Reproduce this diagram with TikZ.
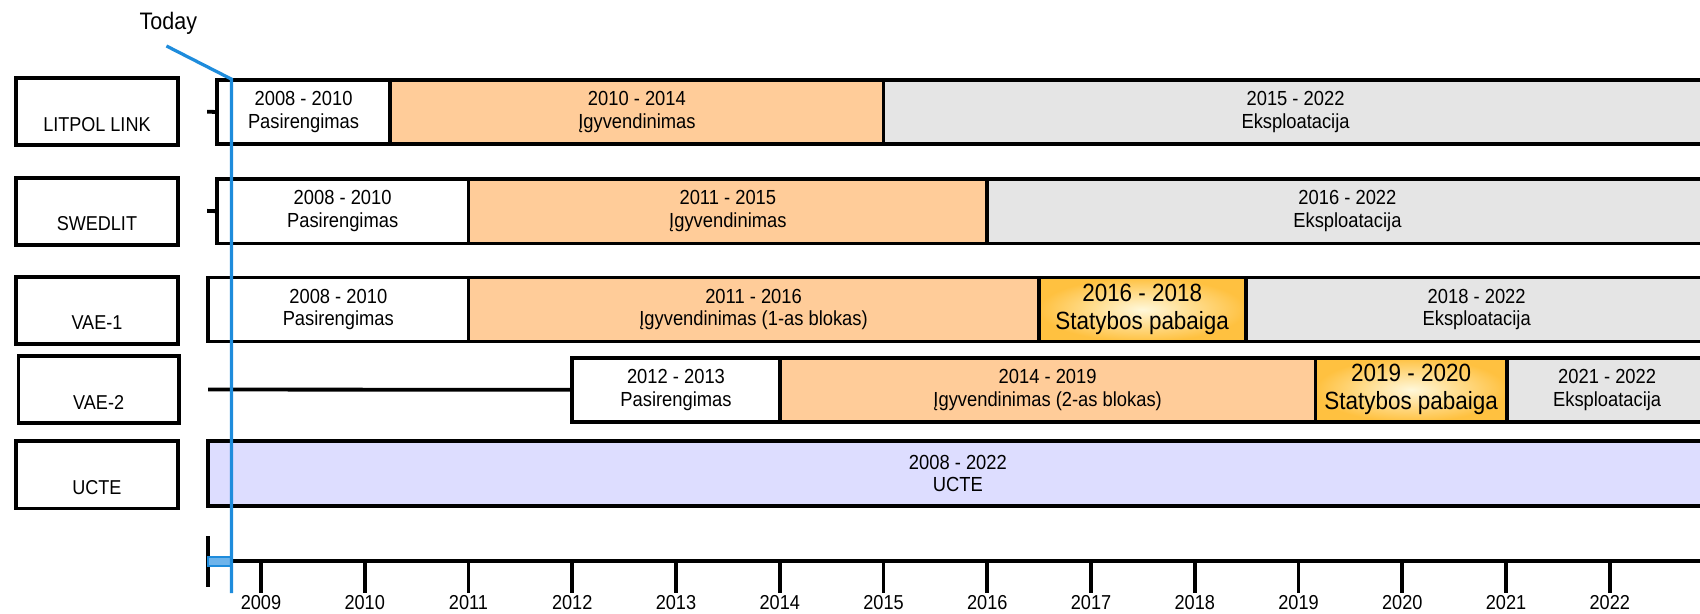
\documentclass[tikz,border=0pt]{standalone}
\usepackage{fontspec}
\setmainfont{Liberation Sans}[FakeStretch=0.9]
\definecolor{peach}{RGB}{255,204,153}
\definecolor{lgray}{RGB}{229,229,229}
\definecolor{lav}{RGB}{221,221,255}
\definecolor{goldout}{RGB}{255,193,64}
\definecolor{goldin}{RGB}{255,248,218}
\definecolor{todayblue}{RGB}{30,140,220}
\definecolor{todaylight}{RGB}{110,180,235}
\newcommand\boxfont{\fontsize{18.8}{20.8}\selectfont}
\newcommand\bigfont{\fontsize{23}{26}\selectfont}
\newcommand\lblfont{\fontsize{18.5}{20}\selectfont}
\newcommand\axfont{\fontsize{18.6}{20}\selectfont}
% segment: name, x1, x2, ytop, ybot, style, text
\newcommand\segm[7]{%
  \node[segbox,#6,minimum width={(#3-#2)*1pt},minimum height={(#5-#4)*1pt}]
    (#1) at ({(#2+#3)/2},{(#4+#5)/2}) {#7};}
% label box: name, x1, x2, ytop, ybot, text
\newcommand\lblbox[6]{%
  \node[lblstyle,minimum width={(#3-#2)*1pt},minimum height={(#5-#4)*1pt}]
    (#1) at ({(#2+#3)/2},{(#4+#5)/2}) {#6};}
\begin{document}
\begin{tikzpicture}[x=1pt,y=-1pt,
  segbox/.style={draw=black,line width=3.5pt,inner sep=0pt,align=center,font=\boxfont},
  white/.style={fill=white},
  orng/.style={fill=peach},
  gry/.style={fill=lgray},
  lavbox/.style={fill=lav},
  gold/.style={shade,inner color=goldin,outer color=goldout,font=\bigfont},
  lblstyle/.style={draw=black,line width=3.5pt,inner sep=0pt,font=\lblfont,
    text height=40pt,text depth=4pt},
  stub/.style={line width=3.5pt,black},
  axisline/.style={line width=3.5pt,black},
  todayline/.style={line width=3pt,todayblue}]
\useasboundingbox (0,0) rectangle (1568,565.4);
\clip (0,0) rectangle (1568,565.4);

% row labels
\lblbox{lLit}{14.8}{164}{72.3}{133.5}{LITPOL LINK}
\lblbox{lSwe}{14.8}{164}{164}{226}{SWEDLIT}
\lblbox{lVa}{14.8}{164}{255.2}{317.3}{VAE-1}
\lblbox{lVb}{17}{165}{328.4}{390.2}{VAE-2}
\lblbox{lUc}{14.8}{164}{407}{469}{UCTE}

% LITPOL LINK
\coordinate (litS) at (191,103);
\segm{lit1}{200}{360}{74}{132.5}{white}{2008 - 2010\\Pasirengimas}
\segm{lit2}{360}{814.9}{74}{132.5}{orng}{2010 - 2014\\Įgyvendinimas}
\segm{lit3}{814.9}{1575}{74}{132.5}{gry}{2015 - 2022\\Eksploatacija}
\draw[stub] (litS) -- (lit1.west);

% SWEDLIT
\coordinate (sweS) at (191,194.5);
\segm{sw1}{200}{432.1}{165}{224.5}{white}{2008 - 2010\\Pasirengimas}
\segm{sw2}{432.1}{910.6}{165}{224.5}{orng}{2011 - 2015\\Įgyvendinimas}
\segm{sw3}{910.6}{1575}{165}{224.5}{gry}{2016 - 2022\\Eksploatacija}
\draw[stub] (sweS) -- (sw1.west);

% VAE-1
\segm{va1}{192}{432.1}{256}{315}{white}{2008 - 2010\\Pasirengimas}
\segm{va2}{432.1}{958}{256}{315}{orng}{2011 - 2016\\Įgyvendinimas (1-as blokas)}
\segm{va3}{958}{1149}{256}{315}{gold}{2016 - 2018\\Statybos pabaiga}
\segm{va4}{1149}{1575}{256}{315}{gry}{2018 - 2022\\Eksploatacija}

% VAE-2
\coordinate (vbS) at (192,359.3);
\segm{vb1}{527.8}{719.2}{330}{389}{white}{2012 - 2013\\Pasirengimas}
\segm{vb2}{719.2}{1213.4}{330}{389}{orng}{2014 - 2019\\Įgyvendinimas (2-as blokas)}
\segm{vb3}{1213.4}{1389.7}{330}{389}{gold}{2019 - 2020\\Statybos pabaiga}
\segm{vb4}{1389.7}{1575}{330}{389}{gry}{2021 - 2022\\Eksploatacija}
\draw[stub] (vbS) -- (vb1.west);

% UCTE
\segm{uc1}{192}{1575}{407}{466.4}{lavbox}{2008 - 2022\\UCTE}

% axis
\coordinate (axTop) at (192,494.4);
\coordinate (axBot) at (192,541);
\coordinate (axL) at (192,517.5);
\coordinate (axR) at (1575,517.5);
\draw[axisline] (axTop) -- (axBot);
\draw[axisline] (axL) -- (axR);
\foreach \yr in {2009,...,2022}{
  \pgfmathsetmacro\tx{240.7+(\yr-2009)*95.7}
  \coordinate (tk\yr) at (\tx,517.5);
  \coordinate (tb\yr) at (\tx,547);
  \draw[axisline] (tk\yr) -- (tb\yr);
  \node[font=\axfont,inner sep=0pt] (yl\yr) at (\tx,556) {\yr};
}

% today marker
\node[draw=todayblue,fill=todaylight,line width=1.5pt,inner sep=0pt,
  minimum width=21pt,minimum height=8pt] (nowbar) at (202.2,518) {};
\node[font=\fontsize{22}{24}\selectfont,inner sep=0pt] (today) at (155.3,21.5) {Today};
\coordinate (td1) at (153.5,42.4);
\coordinate (td2) at (213.5,73);
\coordinate (td3) at (213.5,547);
\draw[todayline] (td1) -- (td2) -- (td3);
\end{tikzpicture}
\end{document}
